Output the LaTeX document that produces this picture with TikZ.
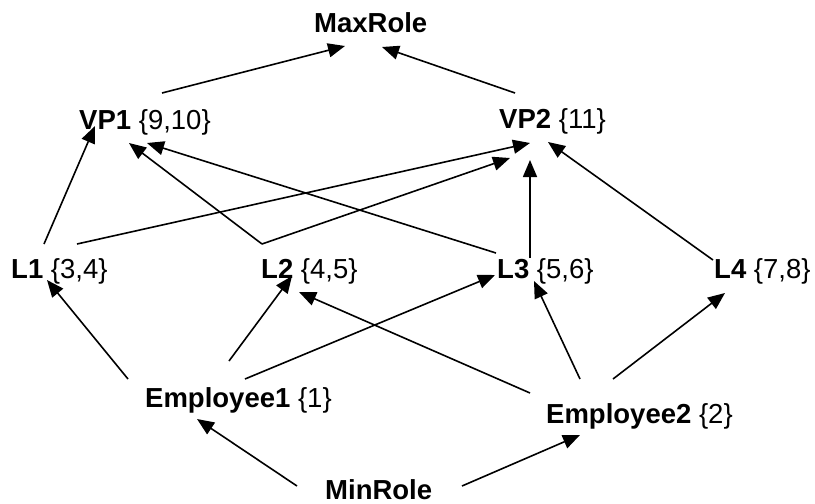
\documentclass[tikz,border=0pt]{standalone}
\usepackage{fontspec}
\setmainfont{Liberation Sans}
\usetikzlibrary{arrows.meta}

\begin{document}
\begin{tikzpicture}[x=1pt, y=-1pt,
  role/.style={anchor=base west, inner sep=0pt, font=\fontsize{27.5}{33}\selectfont},
  link/.style={line width=1.6pt, -{Triangle[length=17pt, width=14pt]}}]

\useasboundingbox (0,0) rectangle (815,504);

% role labels: bold name followed by its permission set
\node[role] (maxrole) at (314,32)  {\textbf{MaxRole}};
\node[role] (vp1)     at (79,129)  {\textbf{VP1} \{9,10\}};
\node[role] (vp2)     at (499,128) {\textbf{VP2} \{11\}};
\node[role] (l1)      at (11,278)  {\textbf{L1} \{3,4\}};
\node[role] (l2)      at (261,278) {\textbf{L2} \{4,5\}};
\node[role] (l3)      at (497,278) {\textbf{L3} \{5,6\}};
\node[role] (l4)      at (714,278) {\textbf{L4} \{7,8\}};
\node[role] (emp1)    at (145,407) {\textbf{Employee1} \{1\}};
\node[role] (emp2)    at (546,423) {\textbf{Employee2} \{2\}};
\node[role] (minrole) at (325,499) {\textbf{MinRole}};

% top level
\draw[link] ([shift={(83,-36)}]vp1.base west) -- ([shift={(31,14)}]maxrole.base west);
\draw[link] ([shift={(16,-35)}]vp2.base west) -- ([shift={(68,15)}]maxrole.base west);

% L roles to VP roles
\draw[link] ([shift={(33,-34)}]l1.base west) -- ([shift={(16,-3)}]vp1.base west);
\draw[link] ([shift={(66,-34)}]l1.base west) -- ([shift={(31,15)}]vp2.base west);
\draw[link] ([shift={(1,-34)}]l2.base west)  -- ([shift={(50,14)}]vp1.base west);
\draw[link] ([shift={(1,-34)}]l2.base west)  -- ([shift={(11,30)}]vp2.base west);
\draw[link] ([shift={(-1,-25)}]l3.base west) -- ([shift={(68,14)}]vp1.base west);
\draw[link] ([shift={(33,-20)}]l3.base west) -- ([shift={(31,32)}]vp2.base west);
\draw[link] ([shift={(-1,-18)}]l4.base west) -- ([shift={(49,14)}]vp2.base west);

% employees to L roles
\draw[link] ([shift={(-17,-28)}]emp1.base west) -- ([shift={(36,2)}]l1.base west);
\draw[link] ([shift={(84,-46)}]emp1.base west)  -- ([shift={(31,-2)}]l2.base west);
\draw[link] ([shift={(100,-28)}]emp1.base west) -- ([shift={(-2,-3)}]l3.base west);
\draw[link] ([shift={(-16,-30)}]emp2.base west) -- ([shift={(38,14)}]l2.base west);
\draw[link] ([shift={(34,-44)}]emp2.base west)  -- ([shift={(37,3)}]l3.base west);
\draw[link] ([shift={(67,-44)}]emp2.base west)  -- ([shift={(11,15)}]l4.base west);

% bottom level
\draw[link] ([shift={(-28,-13)}]minrole.base west) -- ([shift={(52,12)}]emp1.base west);
\draw[link] ([shift={(137,-13)}]minrole.base west) -- ([shift={(34,12)}]emp2.base west);

\end{tikzpicture}
\end{document}
